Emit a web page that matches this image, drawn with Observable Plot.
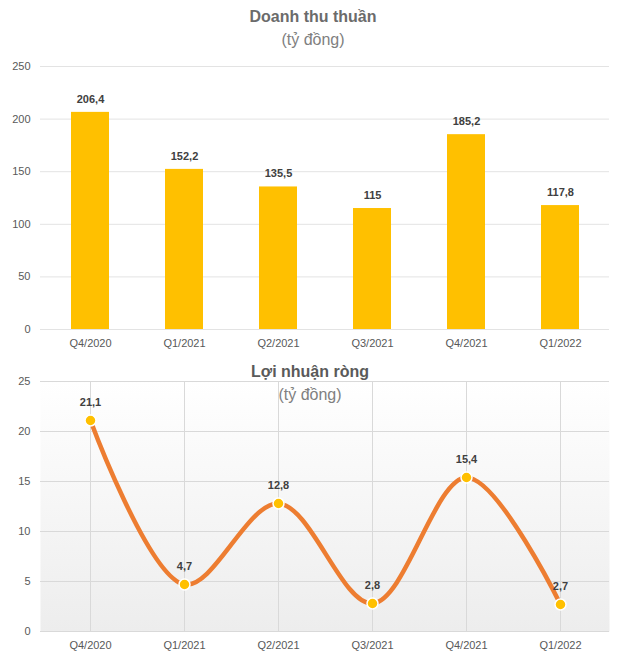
<!DOCTYPE html>
<html>
<head>
<meta charset="utf-8">
<script src="https://cdn.jsdelivr.net/npm/d3@7"></script>
<script src="https://cdn.jsdelivr.net/npm/@observablehq/plot@0.6"></script>
<style>
  html, body { margin: 0; padding: 0; background: #fff; }
  #wrap { position: relative; width: 630px; height: 662px; overflow: hidden; font-family: "Liberation Sans", Arial, sans-serif; }
  .chart { position: absolute; left: 0; }
  .title { position: absolute; width: 630px; text-align: center; font-size: 16px; line-height: 19px; z-index: 2; }
  .t1 { font-weight: bold; color: #6b6b6b; }
  .t2 { color: #808080; }
</style>
</head>
<body>
<div id="wrap">
  <div id="topChart" class="chart" style="top:50px"></div>
  <div id="bottomChart" class="chart" style="top:360px"></div>
  <div class="title t1" style="top:7px;left:-2px">Doanh thu thuần</div>
  <div class="title t2" style="top:30px;left:-2px">(tỷ đồng)</div>
  <div class="title t1" style="top:362px;left:-5px;color:#5a5a5a">Lợi nhuận ròng</div>
  <div class="title t2" style="top:385px;left:-5px">(tỷ đồng)</div>
</div>
<script>
const categories = ["Q4/2020", "Q1/2021", "Q2/2021", "Q3/2021", "Q4/2021", "Q1/2022"];
const revenue = [206.4, 152.2, 135.5, 115, 185.2, 117.8];
const profit = [21.1, 4.7, 12.8, 2.8, 15.4, 2.7];
const revenueTicks = [0, 50, 100, 150, 200, 250];
const profitTicks = [0, 5, 10, 15, 20, 25];

const fmt = v => String(v).replace(".", ",");
const revData = categories.map((c, i) => ({cat: c, v: revenue[i]}));
const profData = categories.map((c, i) => ({cat: c, v: profit[i]}));

const common = {
  width: 630,
  marginLeft: 40,
  marginRight: 21,
  style: {fontFamily: "Liberation Sans, Arial, sans-serif", fontSize: "11px", color: "#595959", background: "transparent", overflow: "visible"}
};

const revChart = Plot.plot({
  ...common,
  height: 310,
  marginTop: 16,
  marginBottom: 31,
  x: {domain: categories, paddingInner: 0.6, paddingOuter: 0.3, label: null, tickSize: 0, tickPadding: 10},
  y: {domain: [0, 250], ticks: revenueTicks, label: null, tickSize: 0, tickPadding: 10},
  marks: [
    Plot.gridY(revenueTicks, {stroke: "#e3e3e3", strokeOpacity: 1}),
    Plot.barY(revData, {x: "cat", y: "v", fill: "#FFC000"}),
    Plot.text(revData, {x: "cat", y: "v", text: d => fmt(d.v), dy: -13, fontWeight: "bold", fill: "#404040", fontSize: 11})
  ]
});
document.getElementById("topChart").appendChild(revChart);

const profChart = Plot.plot({
  ...common,
  height: 302,
  marginTop: 21,
  marginBottom: 31,
  x: {type: "point", domain: categories, padding: 0.5, label: null, tickSize: 0, tickPadding: 10},
  y: {domain: [0, 25], ticks: profitTicks, label: null, tickSize: 0, tickPadding: 10},
  marks: [
    Plot.frame({fill: "url(#bgGrad)", stroke: "none"}),
    Plot.gridX(categories, {stroke: "#d9d9d9", strokeOpacity: 1}),
    Plot.gridY(profitTicks, {stroke: "#d9d9d9", strokeOpacity: 1}),
    Plot.line(profData, {x: "cat", y: "v", stroke: "#ED7D31", strokeWidth: 4.5, curve: "catmull-rom"}),
    Plot.dot(profData, {x: "cat", y: "v", r: 5.5, fill: "#FFC000", stroke: "#fff", strokeWidth: 1.5}),
    Plot.text(profData, {x: "cat", y: "v", text: d => fmt(d.v), dy: -18, fontWeight: "bold", fill: "#404040", fontSize: 11})
  ]
});
const defs = d3.select(profChart).insert("defs", ":first-child");
const grad = defs.append("linearGradient").attr("id", "bgGrad").attr("x1", 0).attr("y1", 0).attr("x2", 0).attr("y2", 1);
grad.append("stop").attr("offset", "0%").attr("stop-color", "#ffffff");
grad.append("stop").attr("offset", "100%").attr("stop-color", "#ededed");
document.getElementById("bottomChart").appendChild(profChart);
</script>
</body>
</html>
